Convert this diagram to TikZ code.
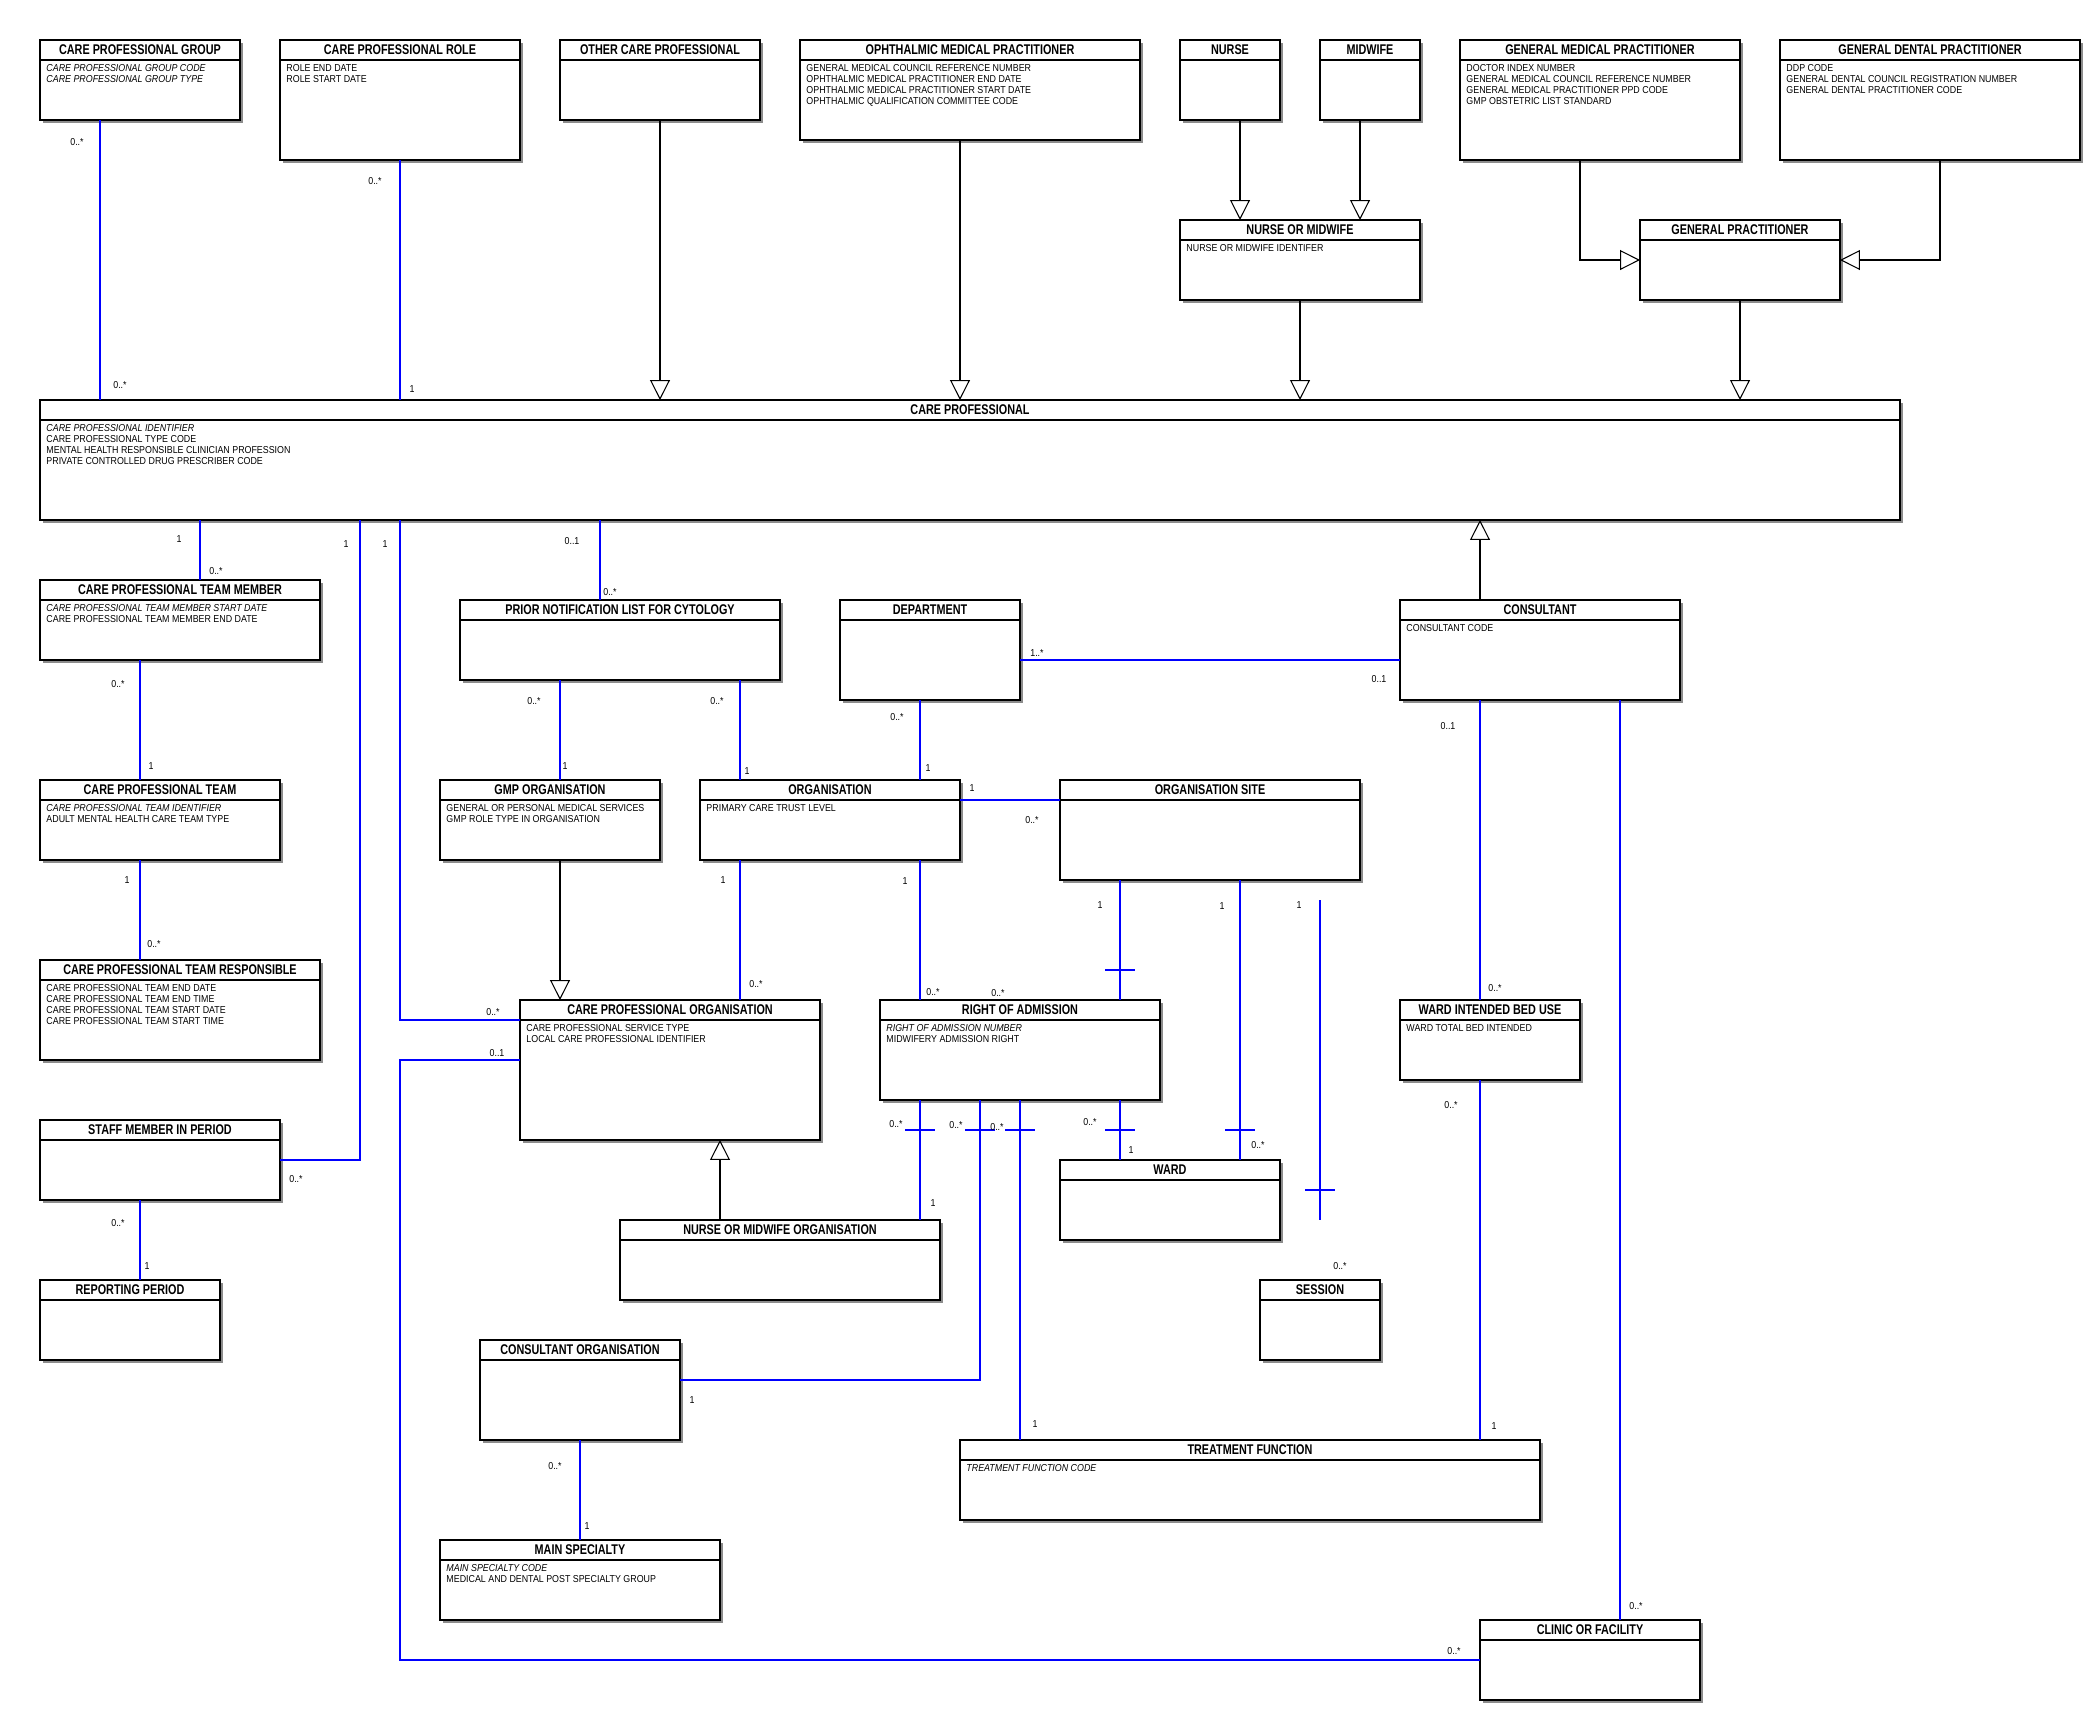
\documentclass[tikz,border=0pt]{standalone}
\usepackage{fontspec}
\setmainfont{Liberation Sans}
\newfontfamily\titlefont{Liberation Sans}[FakeStretch=0.77]
\newfontfamily\attrfont{Liberation Sans}[FakeStretch=0.88]
\usetikzlibrary{shapes,shadows,arrows.meta}

\tikzset{
  classbox/.style={shape=rectangle,draw=black,line width=0.6pt,fill=white,inner sep=0pt,outer sep=0pt,
    drop shadow={shadow xshift=0.04cm,shadow yshift=-0.04cm,fill=black!45,opacity=1}},
  classtitle/.style={font=\titlefont\bfseries\fontsize{6}{7}\selectfont,inner sep=0pt},
  classattr/.style={font=\attrfont\fontsize{4.3}{4.7}\selectfont,align=left,anchor=north west,inner sep=0pt},
  mult/.style={font=\attrfont\fontsize{4.3}{4.7}\selectfont,inner sep=0pt},
  assoc/.style={draw=blue,line width=0.45pt},
  gen/.style={draw=black,line width=0.45pt,-{Triangle[open,length=8.5pt,width=8.5pt]}},
}

% name, x, y, width, height, title, attributes
\newcommand{\umlclass}[7]{%
  \node[classbox,minimum width={#4*0.015cm},minimum height={#5*0.015cm}] (#1) at (#2+#4/2,#3+#5/2) {};
  \draw[line width=0.6pt] (#2,#3+20) -- (#2+#4,#3+20);
  \node[classtitle] (#1-t) at (#2+#4/2,#3+10) {#6};
  \node[classattr] (#1-a) at (#2+6,#3+24) {#7};
}

\begin{document}
\begin{tikzpicture}[x=0.015cm,y=-0.015cm]
\useasboundingbox (0,0) rectangle (2100,1720);

\umlclass{cpg}{40}{40}{200}{80}{CARE PROFESSIONAL GROUP}{\textit{CARE PROFESSIONAL GROUP CODE}\\\textit{CARE PROFESSIONAL GROUP TYPE}}
\umlclass{cpr}{280}{40}{240}{120}{CARE PROFESSIONAL ROLE}{ROLE END DATE\\ROLE START DATE}
\umlclass{ocp}{560}{40}{200}{80}{OTHER CARE PROFESSIONAL}{}
\umlclass{omp}{800}{40}{340}{100}{OPHTHALMIC MEDICAL PRACTITIONER}{GENERAL MEDICAL COUNCIL REFERENCE NUMBER\\OPHTHALMIC MEDICAL PRACTITIONER END DATE\\OPHTHALMIC MEDICAL PRACTITIONER START DATE\\OPHTHALMIC QUALIFICATION COMMITTEE CODE}
\umlclass{nurse}{1180}{40}{100}{80}{NURSE}{}
\umlclass{midwife}{1320}{40}{100}{80}{MIDWIFE}{}
\umlclass{gmp}{1460}{40}{280}{120}{GENERAL MEDICAL PRACTITIONER}{DOCTOR INDEX NUMBER\\GENERAL MEDICAL COUNCIL REFERENCE NUMBER\\GENERAL MEDICAL PRACTITIONER PPD CODE\\GMP OBSTETRIC LIST STANDARD}
\umlclass{gdp}{1780}{40}{300}{120}{GENERAL DENTAL PRACTITIONER}{DDP CODE\\GENERAL DENTAL COUNCIL REGISTRATION NUMBER\\GENERAL DENTAL PRACTITIONER CODE}
\umlclass{nom}{1180}{220}{240}{80}{NURSE OR MIDWIFE}{NURSE OR MIDWIFE IDENTIFER}
\umlclass{gp}{1640}{220}{200}{80}{GENERAL PRACTITIONER}{}
\umlclass{cp}{40}{400}{1860}{120}{CARE PROFESSIONAL}{\textit{CARE PROFESSIONAL IDENTIFIER}\\CARE PROFESSIONAL TYPE CODE\\MENTAL HEALTH RESPONSIBLE CLINICIAN PROFESSION\\PRIVATE CONTROLLED DRUG PRESCRIBER CODE}
\umlclass{cptm}{40}{580}{280}{80}{CARE PROFESSIONAL TEAM MEMBER}{\textit{CARE PROFESSIONAL TEAM MEMBER START DATE}\\CARE PROFESSIONAL TEAM MEMBER END DATE}
\umlclass{pnlc}{460}{600}{320}{80}{PRIOR NOTIFICATION LIST FOR CYTOLOGY}{}
\umlclass{dept}{840}{600}{180}{100}{DEPARTMENT}{}
\umlclass{cons}{1400}{600}{280}{100}{CONSULTANT}{CONSULTANT CODE}
\umlclass{cpt}{40}{780}{240}{80}{CARE PROFESSIONAL TEAM}{\textit{CARE PROFESSIONAL TEAM IDENTIFIER}\\ADULT MENTAL HEALTH CARE TEAM TYPE}
\umlclass{gmporg}{440}{780}{220}{80}{GMP ORGANISATION}{GENERAL OR PERSONAL MEDICAL SERVICES\\GMP ROLE TYPE IN ORGANISATION}
\umlclass{org}{700}{780}{260}{80}{ORGANISATION}{PRIMARY CARE TRUST LEVEL}
\umlclass{site}{1060}{780}{300}{100}{ORGANISATION SITE}{}
\umlclass{cptr}{40}{960}{280}{100}{CARE PROFESSIONAL TEAM RESPONSIBLE}{CARE PROFESSIONAL TEAM END DATE\\CARE PROFESSIONAL TEAM END TIME\\CARE PROFESSIONAL TEAM START DATE\\CARE PROFESSIONAL TEAM START TIME}
\umlclass{cpo}{520}{1000}{300}{140}{CARE PROFESSIONAL ORGANISATION}{CARE PROFESSIONAL SERVICE TYPE\\LOCAL CARE PROFESSIONAL IDENTIFIER}
\umlclass{roa}{880}{1000}{280}{100}{RIGHT OF ADMISSION}{\textit{RIGHT OF ADMISSION NUMBER}\\MIDWIFERY ADMISSION RIGHT}
\umlclass{wibu}{1400}{1000}{180}{80}{WARD INTENDED BED USE}{WARD TOTAL BED INTENDED}
\umlclass{smip}{40}{1120}{240}{80}{STAFF MEMBER IN PERIOD}{}
\umlclass{ward}{1060}{1160}{220}{80}{WARD}{}
\umlclass{nmo}{620}{1220}{320}{80}{NURSE OR MIDWIFE ORGANISATION}{}
\umlclass{rp}{40}{1280}{180}{80}{REPORTING PERIOD}{}
\umlclass{session}{1260}{1280}{120}{80}{SESSION}{}
\umlclass{conso}{480}{1340}{200}{100}{CONSULTANT ORGANISATION}{}
\umlclass{tf}{960}{1440}{580}{80}{TREATMENT FUNCTION}{\textit{TREATMENT FUNCTION CODE}}
\umlclass{ms}{440}{1540}{280}{80}{MAIN SPECIALTY}{\textit{MAIN SPECIALTY CODE}\\MEDICAL AND DENTAL POST SPECIALTY GROUP}
\umlclass{clinic}{1480}{1620}{220}{80}{CLINIC OR FACILITY}{}

% generalisations
\draw[gen] (ocp.south -| 660,0) -- (cp.north -| 660,0);
\draw[gen] (omp.south -| 960,0) -- (cp.north -| 960,0);
\draw[gen] (nurse.south -| 1240,0) -- (nom.north -| 1240,0);
\draw[gen] (midwife.south -| 1360,0) -- (nom.north -| 1360,0);
\draw[gen] (nom.south) -- (cp.north -| nom.south);
\draw[gen] (gp.south) -- (cp.north -| gp.south);
\draw[gen] (gmp.south -| 1580,0) |- (gp.west);
\draw[gen] (gdp.south -| 1940,0) |- (gp.east);
\draw[gen] (cons.north -| 1480,0) -- (cp.south -| 1480,0);
\draw[gen] (gmporg.south -| 560,0) -- (cpo.north -| 560,0);
\draw[gen] (nmo.north -| 720,0) -- (cpo.south -| 720,0);

% associations
\draw[assoc] (cpg.south -| 100,0) -- (cp.north -| 100,0);
\draw[assoc] (cpr.south -| 400,0) -- (cp.north -| 400,0);
\draw[assoc] (cp.south -| 200,0) -- (cptm.north -| 200,0);
\draw[assoc] (cptm.south -| 140,0) -- (cpt.north -| 140,0);
\draw[assoc] (cpt.south -| 140,0) -- (cptr.north -| 140,0);
\draw[assoc] (cp.south -| 360,0) |- (smip.east);
\draw[assoc] (smip.south -| 140,0) -- (rp.north -| 140,0);
\draw[assoc] (cp.south -| 400,0) |- (cpo.west |- 0,1020);
\draw[assoc] (cpo.west |- 0,1060) -| (clinic.west -| 400,0) -- (clinic.west);
\draw[assoc] (cp.south -| 600,0) -- (pnlc.north -| 600,0);
\draw[assoc] (pnlc.south -| 560,0) -- (gmporg.north -| 560,0);
\draw[assoc] (pnlc.south -| 740,0) -- (org.north -| 740,0);
\draw[assoc] (dept.south -| 920,0) -- (org.north -| 920,0);
\draw[assoc] (dept.east |- 0,660) -- (cons.west |- 0,660);
\draw[assoc] (org.east |- 0,800) -- (site.west |- 0,800);
\draw[assoc] (org.south -| 740,0) -- (cpo.north -| 740,0);
\draw[assoc] (org.south -| 920,0) -- (roa.north -| 920,0);
\draw[assoc] (site.south -| 1120,0) -- (roa.north -| 1120,0);
\draw[assoc] (site.south -| 1240,0) -- (ward.north -| 1240,0);
\coordinate (sess-a) at (1320,900);
\coordinate (sess-b) at (1320,1220);
\draw[assoc] (sess-a) -- (sess-b);
\draw[assoc] (roa.south -| 920,0) -- (nmo.north -| 920,0);
\draw[assoc] (roa.south -| 980,0) |- (conso.east |- 0,1380);
\draw[assoc] (roa.south -| 1020,0) -- (tf.north -| 1020,0);
\draw[assoc] (roa.south -| 1120,0) -- (ward.north -| 1120,0);
\draw[assoc] (cons.south -| 1480,0) -- (wibu.north -| 1480,0);
\draw[assoc] (wibu.south -| 1480,0) -- (tf.north -| 1480,0);
\draw[assoc] (cons.south -| 1620,0) -- (clinic.north -| 1620,0);
\draw[assoc] (conso.south -| 580,0) -- (ms.north -| 580,0);

% cross bars
\draw[assoc] (1105,970) -- (1135,970);
\draw[assoc] (905,1130) -- (935,1130);
\draw[assoc] (965,1130) -- (995,1130);
\draw[assoc] (1005,1130) -- (1035,1130);
\draw[assoc] (1105,1130) -- (1135,1130);
\draw[assoc] (1225,1130) -- (1255,1130);
\draw[assoc] (1305,1190) -- (1335,1190);

% multiplicities
\node[mult] (cpg-a) at (77,142) {0..*};
\node[mult] (cpg-b) at (120,385) {0..*};
\node[mult] (cpr-a) at (375,181) {0..*};
\node[mult] (cpr-b) at (412,389) {1};
\node[mult] (cptm-a) at (179,539) {1};
\node[mult] (cptm-b) at (216,571) {0..*};
\node[mult] (cpt-a) at (118,684) {0..*};
\node[mult] (cpt-b) at (151,766) {1};
\node[mult] (cptr-a) at (127,880) {1};
\node[mult] (cptr-b) at (154,944) {0..*};
\node[mult] (smip-a) at (346,544) {1};
\node[mult] (smip-b) at (296,1179) {0..*};
\node[mult] (rp-a) at (118,1223) {0..*};
\node[mult] (rp-b) at (147,1266) {1};
\node[mult] (cpo-a) at (385,544) {1};
\node[mult] (cpo-b) at (493,1012) {0..*};
\node[mult] (clinic-a) at (497,1053) {0..1};
\node[mult] (clinic-b) at (1454,1651) {0..*};
\node[mult] (pnlc-a) at (572,541) {0..1};
\node[mult] (pnlc-b) at (610,592) {0..*};
\node[mult] (gmporg-a) at (534,701) {0..*};
\node[mult] (gmporg-b) at (565,766) {1};
\node[mult] (org-a) at (717,701) {0..*};
\node[mult] (org-b) at (747,771) {1};
\node[mult] (dept-a) at (897,717) {0..*};
\node[mult] (dept-b) at (928,768) {1};
\node[mult] (cons-a) at (1037,653) {1..*};
\node[mult] (cons-b) at (1379,679) {0..1};
\node[mult] (site-a) at (972,788) {1};
\node[mult] (site-b) at (1032,820) {0..*};
\node[mult] (orgcpo-a) at (723,880) {1};
\node[mult] (orgcpo-b) at (756,984) {0..*};
\node[mult] (orgroa-a) at (905,881) {1};
\node[mult] (orgroa-b) at (933,992) {0..*};
\node[mult] (siteroa-a) at (1100,905) {1};
\node[mult] (siteroa-b) at (998,993) {0..*};
\node[mult] (siteward-a) at (1222,906) {1};
\node[mult] (siteward-b) at (1258,1145) {0..*};
\node[mult] (session-a) at (1299,905) {1};
\node[mult] (session-b) at (1340,1266) {0..*};
\node[mult] (nmo-a) at (896,1124) {0..*};
\node[mult] (nmo-b) at (933,1203) {1};
\node[mult] (conso-a) at (956,1125) {0..*};
\node[mult] (conso-b) at (692,1400) {1};
\node[mult] (tf-a) at (997,1127) {0..*};
\node[mult] (tf-b) at (1035,1424) {1};
\node[mult] (ward-a) at (1090,1122) {0..*};
\node[mult] (ward-b) at (1131,1150) {1};
\node[mult] (wibu-a) at (1448,726) {0..1};
\node[mult] (wibu-b) at (1495,988) {0..*};
\node[mult] (wibutf-a) at (1451,1105) {0..*};
\node[mult] (wibutf-b) at (1494,1426) {1};
\node[mult] (consclinic-b) at (1636,1606) {0..*};
\node[mult] (ms-a) at (555,1466) {0..*};
\node[mult] (ms-b) at (587,1526) {1};
\end{tikzpicture}
\end{document}
